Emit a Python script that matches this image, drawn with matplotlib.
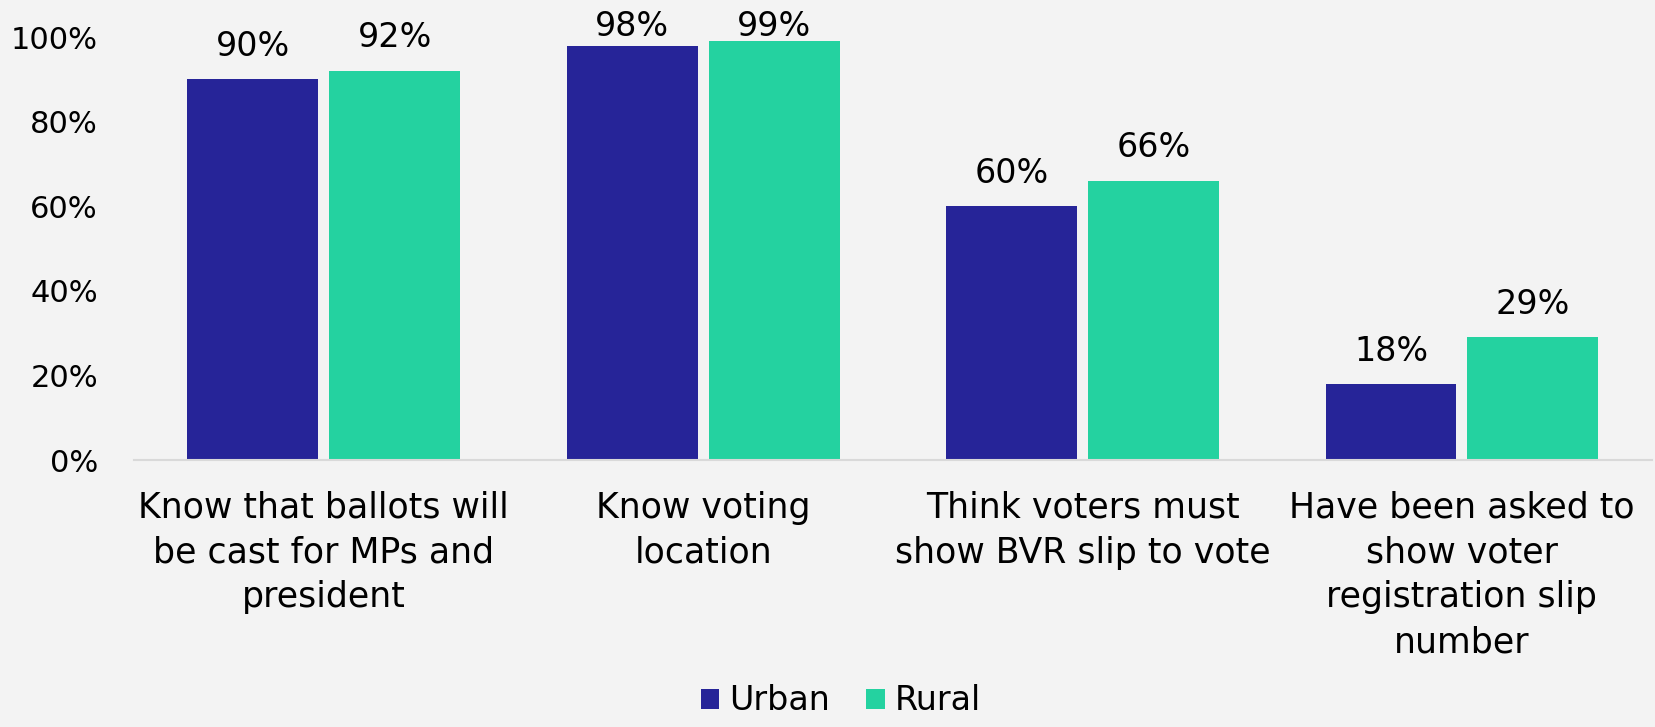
import matplotlib
matplotlib.use("Agg")
import matplotlib.pyplot as plt
import numpy as np

categories = [
    "Know that ballots will\nbe cast for MPs and\npresident",
    "Know voting\nlocation",
    "Think voters must\nshow BVR slip to vote",
    "Have been asked to\nshow voter\nregistration slip\nnumber",
]
urban = [90, 98, 60, 18]
rural = [92, 99, 66, 29]
series_names = ["Urban", "Rural"]
yticks = [0, 20, 40, 60, 80, 100]

urban_color = "#262498"
rural_color = "#24D2A0"
bg = "#f3f3f3"

plt.rcParams["font.family"] = ["DejaVu Sans"]

fig = plt.figure(figsize=(16.55, 7.27), dpi=100, facecolor=bg)
ax = fig.add_axes([0.081, 0.367, 0.917, 0.582])
ax.set_facecolor(bg)

x = np.arange(len(categories))
w = 0.345
off = (w + 0.029) / 2
b1 = ax.bar(x - off, urban, w, color=urban_color, label=series_names[0])
b2 = ax.bar(x + off, rural, w, color=rural_color, label=series_names[1])

# labels sit above bars, but get pushed down near the top edge (like PowerPoint does)
for bars, vals in [(b1, urban), (b2, rural)]:
    for b, v in zip(bars, vals):
        ty = min(v + 7.8, 102.5)
        ax.text(b.get_x() + b.get_width() / 2, ty, f"{v}%",
                ha="center", va="center", fontsize=24, clip_on=False)

ax.set_xlim(-0.5, len(categories) - 0.5)
ax.set_ylim(0, 100)
ax.set_yticks(yticks)
ax.set_yticklabels([f"{t}%" for t in yticks], fontsize=22)
ax.set_xticks(x)
ax.set_xticklabels(categories, fontsize=25, linespacing=1.4)
ax.tick_params(axis="both", length=0)
ax.tick_params(axis="y", pad=26)
ax.tick_params(axis="x", pad=22)

for s in ["top", "right", "left"]:
    ax.spines[s].set_visible(False)
ax.spines["bottom"].set_color("#d9d9d9")
ax.spines["bottom"].set_linewidth(1.5)

fig.legend(loc="lower center", bbox_to_anchor=(0.508, -0.028), ncol=2,
           frameon=False, fontsize=24, handlelength=0.55, handleheight=0.55,
           handletextpad=0.3, columnspacing=1.1)

fig.savefig("out.png", dpi=100, facecolor=bg)
